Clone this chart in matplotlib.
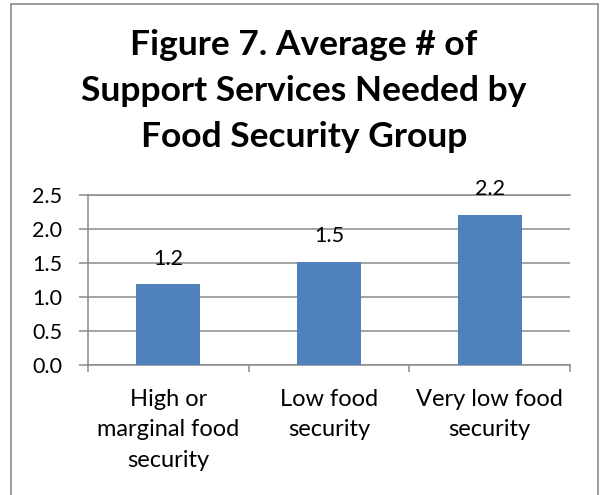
import matplotlib
matplotlib.use('Agg')
import matplotlib.pyplot as plt
from matplotlib.patches import Rectangle

categories = ["High or\nmarginal food\nsecurity", "Low food\nsecurity", "Very low food\nsecurity"]
values = [1.19, 1.52, 2.21]
value_labels = ["1.2", "1.5", "2.2"]
title_lines = ["Figure 7. Average # of", "Support Services Needed by", "Food Security Group"]
yticks = [0.0, 0.5, 1.0, 1.5, 2.0, 2.5]

FONT = 'Lato'
GRID = '#8a8a8a'
BAR = '#4f81bd'
W, H = 600, 495

fig = plt.figure(figsize=(W / 100, H / 100), dpi=100)
ax = fig.add_axes([88 / W, 1 - 365 / H, (570 - 88) / W, (365 - 195) / H])

x = list(range(len(categories)))
ax.bar(x, values, width=0.4, color=BAR, zorder=3)
ax.set_xlim(-0.5, len(categories) - 0.5)
ax.set_ylim(0, 2.5)

ax.set_yticks(yticks)
ax.set_yticklabels([f"{t:.1f}" for t in yticks], fontname=FONT, fontsize=15.5)
ax.tick_params(axis='y', direction='out', length=6.5, width=1.1, color=GRID, pad=12)
ax.yaxis.grid(True, color=GRID, lw=1.1, zorder=0)

ax.set_xticks(x)
ax.set_xticklabels(categories, fontname=FONT, fontsize=17, linespacing=1.58)
ax.set_xticks([i - 0.5 for i in range(len(categories) + 1)], minor=True)
ax.tick_params(axis='x', which='major', length=0, pad=17)
ax.tick_params(axis='x', which='minor', direction='out', length=5, width=1.1, color=GRID)

ax.spines['right'].set_visible(False)
for side in ['left', 'bottom', 'top']:
    ax.spines[side].set_color(GRID)
    ax.spines[side].set_linewidth(1.1)
ax.set_axisbelow(True)

for xi, v, lbl in zip(x, values, value_labels):
    ax.annotate(lbl, (xi, v), xytext=(0, 11), textcoords='offset points',
                ha='center', va='bottom', fontname=FONT, fontsize=15.5)

title_y0 = 45
title_step = 46
for i, line in enumerate(title_lines):
    fig.text(304 / W, 1 - (title_y0 + i * title_step) / H, line, ha='center', va='center',
             fontname=FONT, fontweight='bold', fontsize=25.5)

fig.patches.append(Rectangle((11 / W, -0.05), (598 - 11) / W, 1.05 - 4 / H,
                             transform=fig.transFigure, fill=False,
                             ec='#8a8a8a', lw=1.2))

fig.savefig('out.png', dpi=100)
